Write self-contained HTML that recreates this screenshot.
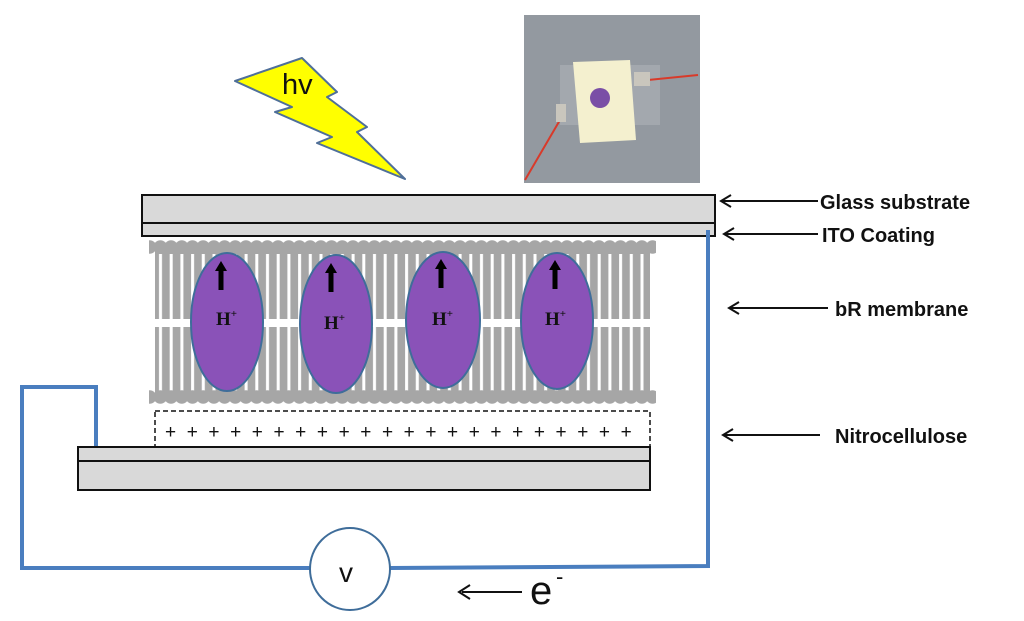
<!DOCTYPE html>
<html><head><meta charset="utf-8"><style>
html,body{margin:0;padding:0;background:#fff;}
svg{display:block}
.s{font-family:"Liberation Sans",Arial,sans-serif}
.h{font-family:"Liberation Serif","Times New Roman",serif;font-weight:bold}
</style></head><body>
<svg width="1024" height="621" viewBox="0 0 1024 621" xmlns="http://www.w3.org/2000/svg">
<defs>
<pattern id="str" x="155" y="0" width="10.7" height="10" patternUnits="userSpaceOnUse">
<rect x="4" y="0" width="3" height="10" fill="#fff"/>
</pattern>
<pattern id="headsT" x="155" y="237" width="10.7" height="20" patternUnits="userSpaceOnUse">
<circle cx="5.35" cy="10" r="6.8" fill="#a6a6a6"/>
</pattern>
<pattern id="headsB" x="155" y="387" width="10.7" height="20" patternUnits="userSpaceOnUse">
<circle cx="5.35" cy="10" r="6.8" fill="#a6a6a6"/>
</pattern>
<g id="ar" fill="#000"><rect x="-2.5" y="-8" width="5" height="20"/><polygon points="-6,-7 6,-7 0,-17"/></g>
</defs>
<!-- photo -->
<rect x="524" y="15" width="176" height="168" fill="#8c9299"/>
<rect x="524" y="15" width="176" height="168" fill="#9aa0a8" opacity="0.5"/>
<rect x="560" y="65" width="100" height="60" fill="#a9aeb4" opacity="0.7"/>
<polygon points="573,62 630,60 636,140 580,143" fill="#f4f0cf"/>
<circle cx="600" cy="98" r="10" fill="#7a4fa6"/>
<path d="M525,180 L560,120" stroke="#d83a2a" stroke-width="2" fill="none"/>
<path d="M648,80 L698,75" stroke="#d83a2a" stroke-width="2" fill="none"/>
<rect x="556" y="104" width="10" height="18" fill="#c9c6bd"/>
<rect x="634" y="72" width="16" height="14" fill="#c9c6bd"/>
<!-- lightning -->
<polygon points="235,81 302,58 337,92 327,97 367,127 357,132 405,179 317,143 332,137 275,112 292,107" fill="#ffff00" stroke="#4f6f99" stroke-width="2" stroke-linejoin="round"/>
<text class="s" x="282" y="94" font-size="29" fill="#111">hv</text>
<!-- glass -->
<rect x="142" y="195" width="573" height="28" fill="#d9d9d9" stroke="#111" stroke-width="2"/>
<rect x="142" y="223" width="573" height="13" fill="#d9d9d9" stroke="#111" stroke-width="2"/>
<!-- lipid -->
<rect x="155" y="248" width="495" height="148" fill="#a6a6a6"/>
<rect x="155" y="254" width="495" height="137" fill="url(#str)"/>
<rect x="155" y="319" width="495" height="8" fill="#fff"/>
<rect x="149" y="237" width="507" height="20" fill="url(#headsT)"/>
<rect x="149" y="387" width="507" height="20" fill="url(#headsB)"/>
<!-- bR -->
<g stroke="#3f6d9a" stroke-width="2" fill="#8a52b8">
<ellipse cx="227" cy="322" rx="36" ry="69"/>
<ellipse cx="336" cy="324" rx="36" ry="69"/>
<ellipse cx="443" cy="320" rx="37" ry="68"/>
<ellipse cx="557" cy="321" rx="36" ry="68"/>
</g>
<use href="#ar" x="221" y="278"/>
<use href="#ar" x="331" y="280"/>
<use href="#ar" x="441" y="276"/>
<use href="#ar" x="555" y="277"/>
<g class="h" font-size="19" fill="#111">
<text class="h" x="216" y="325">H<tspan font-size="11" dy="-8">+</tspan></text>
<text class="h" x="324" y="329">H<tspan font-size="11" dy="-8">+</tspan></text>
<text class="h" x="432" y="325">H<tspan font-size="11" dy="-8">+</tspan></text>
<text class="h" x="545" y="325">H<tspan font-size="11" dy="-8">+</tspan></text>
</g>
<!-- nitrocellulose -->
<rect x="155" y="411" width="495" height="36" fill="#fff" stroke="#111" stroke-width="1.5" stroke-dasharray="5,3"/>
<text class="s" x="165" y="438" font-size="19" fill="#111" letter-spacing="10.6">++++++++++++++++++++++</text>
<!-- bottom electrode -->
<rect x="78" y="447" width="572" height="43" fill="#d9d9d9" stroke="#111" stroke-width="2"/>
<line x1="78" y1="461" x2="650" y2="461" stroke="#111" stroke-width="2"/>
<!-- wire -->
<polyline points="96,446 96,387 22,387 22,568 310,568" fill="none" stroke="#4a7ebf" stroke-width="4"/>
<polyline points="390,568 708,566 708,230" fill="none" stroke="#4a7ebf" stroke-width="4"/>
<ellipse cx="350" cy="569" rx="40" ry="41" fill="#fff" stroke="#3f6d9a" stroke-width="2"/>
<text class="s" x="339" y="582" font-size="28" fill="#111">v</text>
<line x1="462" y1="592" x2="522" y2="592" stroke="#111" stroke-width="2"/>
<polyline points="470,585 459,592 470,599" fill="none" stroke="#111" stroke-width="2"/>
<text class="s" x="530" y="604" font-size="40" fill="#111">e</text>
<text class="s" x="556" y="584" font-size="22" fill="#111">-</text>
<!-- labels -->
<g stroke="#111" stroke-width="2" fill="none">
<line x1="722" y1="201" x2="818" y2="201"/><polyline points="731,195 721,201 731,207"/>
<line x1="725" y1="234" x2="818" y2="234"/><polyline points="734,228 724,234 734,240"/>
<line x1="730" y1="308" x2="828" y2="308"/><polyline points="739,302 729,308 739,314"/>
<line x1="724" y1="435" x2="820" y2="435"/><polyline points="733,429 723,435 733,441"/>
</g>
<g class="s" font-weight="bold" font-size="20" fill="#111">
<text x="820" y="209">Glass substrate</text>
<text x="822" y="242">ITO  Coating</text>
<text x="835" y="316">bR  membrane</text>
<text x="835" y="443">Nitrocellulose</text>
</g>
</svg>
</body></html>
